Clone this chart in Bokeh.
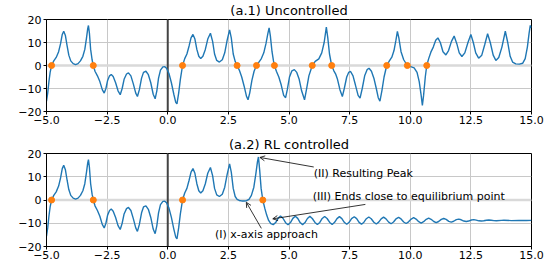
import math
from bokeh.plotting import figure
from bokeh.layouts import column
from bokeh.models import (Range1d, FixedTicker, CustomJSTickFormatter, Span,
                          Label, Arrow, OpenHead)
from bokeh.embed import file_html
from bokeh.resources import INLINE

FONT = "DejaVu Sans"
BLUE = "#1f77b4"
ORANGE = "#ff7f0e"

# ---------------- data ----------------
x_ticks = [-5.0, -2.5, 0.0, 2.5, 5.0, 7.5, 10.0, 12.5, 15.0]
y_ticks = [-20, -10, 0, 10, 20]

# common part of both trajectories (x from -5 to 2.55)
x_pre = [-5.00, -4.95, -4.90, -4.85, -4.79, -4.70, -4.60, -4.50, -4.42, -4.35,
         -4.29, -4.22, -4.15, -4.08, -4.00, -3.90, -3.80, -3.70, -3.60, -3.50,
         -3.42, -3.35, -3.30, -3.27, -3.23, -3.18, -3.12, -3.07, -3.00, -2.90,
         -2.80, -2.70, -2.62, -2.55, -2.48, -2.40, -2.33, -2.25, -2.15, -2.05,
         -1.96, -1.88, -1.80, -1.70, -1.62, -1.52, -1.42, -1.32, -1.25, -1.17,
         -1.08, -1.00, -0.90, -0.80, -0.70, -0.60, -0.52, -0.45, -0.38, -0.30,
         -0.20, -0.12, -0.05, 0.05, 0.15, 0.25, 0.33, 0.38, 0.45, 0.52,
         0.61, 0.70, 0.79, 0.88, 0.96, 1.04, 1.12, 1.20, 1.28, 1.36,
         1.45, 1.55, 1.65, 1.76, 1.85, 1.93, 2.02, 2.13, 2.25, 2.35,
         2.45, 2.55]
y_pre = [-15.5, -12.0, -7.0, -3.0, 0.0, 2.0, 3.5, 6.0, 9.5, 13.5,
         14.9, 13.0, 8.5, 4.5, 2.0, 0.8, 0.4, 0.8, 2.0, 4.0,
         7.0, 12.0, 16.0, 17.4, 14.0, 7.0, 2.5, 0.0, -2.5, -4.5,
         -7.0, -10.5, -12.0, -10.0, -6.5, -4.5, -3.9, -4.8, -7.5, -11.0,
         -12.7, -10.0, -6.0, -3.7, -3.2, -4.5, -8.0, -12.0, -13.5, -10.5,
         -5.5, -3.0, -2.5, -4.0, -7.5, -12.5, -14.5, -11.0, -5.5, -2.0,
         -0.6, -0.5, -1.2, -3.5, -7.5, -12.5, -16.0, -16.7, -12.0, -6.0,
         0.0, 3.0, 5.0, 8.5, 12.0, 13.5, 11.5, 7.0, 4.0, 3.0,
         4.0, 7.0, 11.5, 14.0, 10.5, 5.0, 2.2, 1.5, 2.5, 5.5,
         11.0, 15.5]

# uncontrolled continuation
x_unc_tail = [2.62, 2.70, 2.78, 2.86, 2.95, 3.05, 3.15, 3.25, 3.31, 3.38,
              3.47, 3.56, 3.66, 3.76, 3.86, 3.96, 4.05, 4.13, 4.18, 4.23,
              4.30, 4.36, 4.40, 4.48, 4.58, 4.68, 4.78, 4.86, 4.93, 5.02,
              5.12, 5.22, 5.32, 5.42, 5.52, 5.64, 5.72, 5.82, 5.96, 6.08,
              6.23, 6.35, 6.45, 6.54, 6.60, 6.67, 6.76, 6.85, 6.92, 7.00,
              7.10, 7.20, 7.28, 7.38, 7.46, 7.54, 7.64, 7.74, 7.85, 7.93,
              8.02, 8.12, 8.22, 8.30, 8.40, 8.50, 8.60, 8.68, 8.75, 8.83,
              8.92, 9.03, 9.14, 9.24, 9.33, 9.41, 9.47, 9.53, 9.62, 9.73,
              9.88, 10.02, 10.16, 10.28, 10.37, 10.45, 10.50, 10.55, 10.62, 10.68,
              10.76, 10.85, 10.95, 11.05, 11.14, 11.24, 11.35, 11.47, 11.58, 11.70,
              11.81, 11.92, 12.02, 12.13, 12.25, 12.38, 12.50, 12.60, 12.70, 12.82,
              12.95, 13.07, 13.19, 13.30, 13.42, 13.53, 13.65, 13.78, 13.92, 14.02,
              14.12, 14.22, 14.35, 14.50, 14.64, 14.74, 14.83, 14.90, 14.95, 15.00]
y_unc_tail = [12.0, 5.0, 1.8, 0.0, -2.0, -5.0, -9.0, -13.5, -14.9, -12.0,
              -6.5, -2.5, 0.0, 1.5, 3.0, 5.5, 9.5, 14.0, 16.4, 13.0,
              6.0, 2.0, 0.0, -2.5, -5.0, -8.5, -13.0, -14.0, -10.5, -5.0,
              -2.3, -1.8, -3.0, -6.0, -11.0, -14.9, -10.5, -4.5, 0.0, 1.8,
              2.9, 5.5, 10.0, 16.7, 12.0, 5.0, 0.0, -2.3, -3.6, -6.0,
              -10.5, -13.5, -10.0, -5.0, -3.0, -2.6, -4.5, -8.5, -13.0, -14.2,
              -10.0, -4.5, -1.8, -1.2, -2.5, -5.5, -10.0, -14.0, -15.5, -11.0,
              -5.0, 0.0, 2.0, 3.6, 6.5, 11.0, 14.8, 12.0, 6.0, 2.5,
              0.0, -0.5, -1.0, -3.0, -7.0, -13.0, -17.4, -13.0, -5.0, 0.0,
              3.0, 5.8, 8.0, 11.0, 12.0, 10.0, 6.0, 4.6, 6.5, 10.5,
              12.8, 9.5, 5.5, 3.9, 5.5, 10.0, 13.5, 10.0, 5.5, 3.2,
              4.5, 9.0, 13.8, 10.0, 4.5, 2.2, 3.5, 8.0, 14.9, 10.0,
              4.0, 1.5, 0.7, 0.6, 1.0, 3.0, 8.0, 14.0, 17.4, 16.5]

# RL controlled continuation
x_rl_tail = [2.62, 2.70, 2.78, 2.86, 2.95, 3.05, 3.15, 3.25, 3.35, 3.45,
             3.55, 3.63, 3.70, 3.74, 3.79, 3.85, 3.92, 4.00, 4.08, 4.16,
             4.25, 4.35, 4.45, 4.55, 4.65, 4.75, 4.86, 4.96, 5.06, 5.16,
             5.26, 5.36, 5.46, 5.56, 5.66, 5.76, 5.86, 5.96, 6.07, 6.17,
             6.27, 6.37, 6.47, 6.57, 6.68, 6.78, 6.88, 6.98, 7.08, 7.18,
             7.28, 7.38, 7.48, 7.58, 7.69, 7.79, 7.89, 7.99, 8.09, 8.19,
             8.29, 8.39, 8.50, 8.60, 8.70, 8.80, 8.90, 9.00, 9.11, 9.21,
             9.31, 9.41, 9.52, 9.62, 9.73, 9.83, 9.93, 10.04, 10.14, 10.24,
             10.35, 10.45, 10.55, 10.66, 10.76, 10.86, 10.97, 11.07, 11.17, 11.28,
             11.38, 11.48, 11.59, 11.69, 11.79, 11.90, 12.00, 12.10, 12.21, 12.31,
             12.41, 12.52, 12.62, 12.72, 12.83, 12.93, 13.03, 13.14, 13.24, 13.34,
             13.45, 13.55, 13.76, 13.86, 14.17, 14.48, 14.79, 15.00]
y_rl_tail = [12.0, 5.0, 1.5, 0.3, -0.2, -0.4, -0.4, -0.3, 0.3, 2.0,
             5.5, 11.0, 16.5, 18.5, 13.0, 5.0, 0.0, -3.5, -6.5, -8.8,
             -10.2, -10.6, -9.7, -7.9, -6.9, -7.85, -9.75, -10.65, -9.7, -7.9,
             -6.95, -7.9, -9.7, -10.6, -9.7, -7.95, -7.05, -7.95, -9.65, -10.55,
             -9.65, -7.95, -7.1, -7.95, -9.65, -10.5, -9.6, -8.0, -7.15, -8.0,
             -9.6, -10.45, -9.6, -8.0, -7.2, -8.0, -9.6, -10.4, -9.55, -8.05,
             -7.3, -8.05, -9.55, -10.3, -9.5, -8.1, -7.4, -8.1, -9.5, -10.2,
             -9.45, -8.15, -7.5, -8.15, -9.45, -10.1, -9.4, -8.2, -7.6, -8.2,
             -9.35, -9.9, -9.35, -8.3, -7.8, -8.3, -9.25, -9.7, -9.25, -8.35,
             -7.95, -8.35, -9.2, -9.5, -9.15, -8.45, -8.2, -8.5, -9.05, -9.25,
             -9.05, -8.6, -8.45, -8.65, -8.95, -9.05, -8.95, -8.7, -8.6, -8.7,
             -8.85, -8.95, -8.75, -8.7, -8.85, -8.75, -8.8, -8.75]

zeros_unc = [-4.79, -3.07, 0.61, 2.86, 3.66, 4.40, 5.96, 6.76, 9.03, 9.88, 10.68]
zeros_rl = [-4.79, -3.07, 0.61, 3.92]

titles = ["(a.1) Uncontrolled", "(a.2) RL controlled"]
y_label = "x"

# annotations: (text, text_x, text_y, align, tail_x, tail_y, head_x, head_y)
notes = [
    ("(II) Resulting Peak", 6.02, 11.3, "left", 6.02, 14.2, 3.80, 18.3),
    ("(III) Ends close to equilibrium point", 5.98, 1.4, "left", 8.15, -1.9, 4.33, -8.1),
    ("(I) x-axis approach", 4.07, -15.0, "center", 3.86, -12.2, 3.24, -1.0),
]


def fmt(decimals):
    return CustomJSTickFormatter(
        code="return tick.toFixed(%d).replace('-', '\\u2212');" % decimals)


def make_fig(title, frame_h, top_border, bottom_border):
    p = figure(frame_width=485, frame_height=frame_h,
               x_range=Range1d(-5, 15), y_range=Range1d(-20, 20),
               output_backend="svg", toolbar_location=None, title=title,
               min_border_left=46, min_border_right=17,
               min_border_top=top_border, min_border_bottom=bottom_border)
    p.title.text_font = FONT
    p.title.text_font_size = "13px"
    p.title.text_font_style = "normal"
    p.title.text_color = "black"
    p.title.align = "center"
    p.title.vertical_align = "top"
    p.title.standoff = 0
    p.outline_line_color = "black"
    p.outline_line_width = 1
    p.outline_line_alpha = 1
    p.background_fill_color = "white"
    p.border_fill_color = "white"

    p.xaxis.ticker = FixedTicker(ticks=x_ticks)
    p.yaxis.ticker = FixedTicker(ticks=y_ticks)
    p.xaxis.formatter = fmt(1)
    p.yaxis.formatter = fmt(0)
    for ax in (p.xaxis, p.yaxis):
        ax.axis_line_color = "black"
        ax.major_tick_line_color = "black"
        ax.major_tick_in = 0
        ax.major_tick_out = 3
        ax.minor_tick_line_color = None
        ax.major_label_text_font = FONT
        ax.major_label_text_font_size = "11px"
        ax.major_label_text_color = "black"
    p.xaxis.major_label_standoff = 1
    p.yaxis.major_label_standoff = 2

    # y-axis label placed in screen units left of the frame
    p.add_layout(Label(x=-36, y=frame_h / 2, x_units="screen", y_units="screen",
                       text=y_label, angle=math.pi / 2, text_align="center",
                       text_baseline="middle", text_font=FONT,
                       text_font_size="11px", text_color="black"))

    p.xgrid.ticker = FixedTicker(ticks=x_ticks)
    p.ygrid.ticker = FixedTicker(ticks=y_ticks)
    for g in (p.xgrid, p.ygrid):
        g.grid_line_color = "#c8c8c8"
        g.grid_line_width = 1

    p.add_layout(Span(location=0, dimension="width", line_color="#d9d9d9",
                      line_width=2.5, level="underlay"))
    p.add_layout(Span(location=0, dimension="height", line_color="#444444",
                      line_width=2, level="underlay"))
    return p


p1 = make_fig(titles[0], 92, 19, 24)
p1.line(x_pre + x_unc_tail, y_pre + y_unc_tail, line_color=BLUE, line_width=1.4)
p1.scatter(zeros_unc, [0] * len(zeros_unc), size=6, fill_color=ORANGE,
           line_color=ORANGE)

p2 = make_fig(titles[1], 93, 18, 21)
p2.line(x_pre + x_rl_tail, y_pre + y_rl_tail, line_color=BLUE, line_width=1.4)
p2.scatter(zeros_rl, [0] * len(zeros_rl), size=6, fill_color=ORANGE,
           line_color=ORANGE)

for text, tx, ty, align, x0, y0, x1, y1 in notes:
    p2.add_layout(Arrow(x_start=x0, y_start=y0, x_end=x1, y_end=y1,
                        line_color="black", line_width=0.8,
                        end=OpenHead(size=5, line_color="black", line_width=0.8)))
    p2.add_layout(Label(x=tx, y=ty, text=text, text_align=align,
                        text_baseline="middle", text_font=FONT,
                        text_font_size="11px", text_color="black"))

layout = column(p1, p2, spacing=0)
open("out.html", "w").write(file_html(layout, INLINE))
